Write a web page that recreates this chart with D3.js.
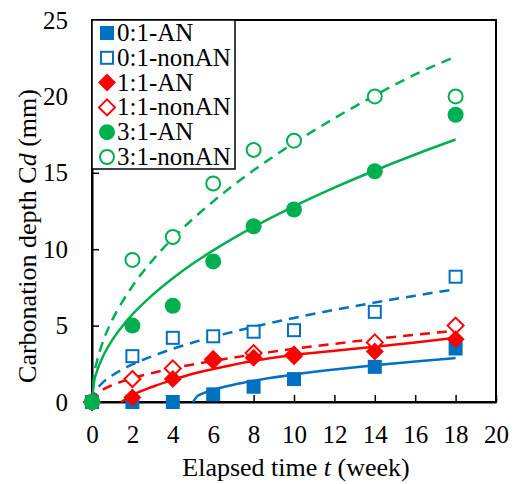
<!DOCTYPE html>
<html>
<head>
<meta charset="utf-8">
<script src="https://cdn.jsdelivr.net/npm/d3@7"></script>
<style>
  body { margin: 0; background: #fff; }
  svg text { font-family: "Liberation Serif", "Times New Roman", serif; fill: #000; }
</style>
</head>
<body>
<div id="chart"></div>
<script>
// measured points (weeks, mm)
const weeks = [0, 2, 4, 6, 8, 10, 14, 18];
const cd01AN    = [0, 0, 0, 0.5, 1.0, 1.5, 2.3, 3.5];
const cd01nonAN = [0, 3.0, 4.2, 4.3, 4.6, 4.7, 5.9, 8.2];
const cd11AN    = [0, 0.3, 1.5, 2.7, 2.9, 3.0, 3.3, 4.1];
const cd11nonAN = [0, 1.5, 2.2, 2.8, 3.2, 3.1, 3.9, 5.0];
const cd31AN    = [0, 5.0, 6.3, 9.2, 11.5, 12.6, 15.1, 18.8];
const cd31nonAN = [0, 9.3, 10.8, 14.3, 16.5, 17.1, 20.0, 20.0];

// fitted curves
const fitT = [0, 0.1, 0.25, 0.5, 1, 1.5, 2, 3, 4, 5, 6, 8, 10, 12, 14, 16, 18];
const fit01nonAN = [0, 0.55, 0.87, 1.23, 1.74, 2.13, 2.46, 3.01, 3.48, 3.89, 4.26, 4.92, 5.5, 6.03, 6.51, 6.96, 7.38];
const fit11nonAN = [0, 0.35, 0.55, 0.78, 1.1, 1.35, 1.56, 1.9, 2.2, 2.46, 2.69, 3.11, 3.48, 3.81, 4.12, 4.4, 4.67];
const fit31AN    = [0, 1.28, 2.03, 2.86, 4.05, 4.96, 5.73, 7.01, 8.1, 9.06, 9.92, 11.46, 12.81, 14.03, 15.15, 16.2, 17.18];
const fit31nonAN = [0, 1.7, 2.68, 3.79, 5.36, 6.56, 7.58, 9.28, 10.72, 11.99, 13.13, 15.16, 16.95, 18.57, 20.06, 21.44, 22.6];
const fit01T  = [5, 5.2, 5.5, 6, 7, 8, 10, 12, 14, 16, 18];
const fit01AN = [0, 0.36, 0.57, 0.8, 1.13, 1.39, 1.79, 2.12, 2.4, 2.65, 2.88];
const fit11T  = [1.45, 1.7, 2, 3, 4, 5, 6, 8, 10, 12, 14, 16, 18];
const fit11AN = [0, 0.22, 0.45, 1.0, 1.45, 1.85, 2.15, 2.7, 3.08, 3.36, 3.62, 3.9, 4.2];

const xTicks = d3.range(0, 21, 2);
const yTicks = [0, 5, 10, 15, 20, 25];

const BLUE = "#0070C0", RED = "#FF0000", GREEN = "#00B050";
const FONT = '"Liberation Serif", "Times New Roman", serif';
const TICK_FS = "25px", TITLE_FS = "26px", LEG_FS = "25px";

const series = [
  {name: "0:1-AN",    vals: cd01AN,    color: BLUE,  shape: "square",  filled: true},
  {name: "0:1-nonAN", vals: cd01nonAN, color: BLUE,  shape: "square",  filled: false},
  {name: "1:1-AN",    vals: cd11AN,    color: RED,   shape: "diamond", filled: true},
  {name: "1:1-nonAN", vals: cd11nonAN, color: RED,   shape: "diamond", filled: false},
  {name: "3:1-AN",    vals: cd31AN,    color: GREEN, shape: "circle",  filled: true},
  {name: "3:1-nonAN", vals: cd31nonAN, color: GREEN, shape: "circle",  filled: false}
];
const fits = [
  {t: fit01T, v: fit01AN,    color: BLUE,  dashed: false},
  {t: fitT,   v: fit01nonAN, color: BLUE,  dashed: true},
  {t: fit11T, v: fit11AN,    color: RED,   dashed: false},
  {t: fitT,   v: fit11nonAN, color: RED,   dashed: true},
  {t: fitT,   v: fit31AN,    color: GREEN, dashed: false},
  {t: fitT,   v: fit31nonAN, color: GREEN, dashed: true}
];

const W = 518, H = 484;
const svg = d3.select("#chart").append("svg").attr("width", W).attr("height", H)
  .attr("font-family", FONT);

const x = d3.scaleLinear().domain([0, 20]).range([92, 496]);
const y = d3.scaleLinear().domain([0, 25]).range([402, 20]);

// frame
svg.append("rect")
  .attr("x", x(0)).attr("y", y(25))
  .attr("width", x(20) - x(0)).attr("height", y(0) - y(25))
  .attr("fill", "none").attr("stroke", "#000").attr("stroke-width", 2);

// axes with inward ticks
const xAxis = svg.append("g").attr("transform", `translate(0,${y(0)})`)
  .call(d3.axisBottom(x).tickValues(xTicks).tickSizeInner(-7).tickSizeOuter(0).tickPadding(23));
const yAxis = svg.append("g").attr("transform", `translate(${x(0)},0)`)
  .call(d3.axisLeft(y).tickValues(yTicks).tickSizeInner(-7).tickSizeOuter(0).tickPadding(24));
[xAxis, yAxis].forEach(a => {
  a.attr("font-family", FONT).attr("font-size", TICK_FS);
  a.select(".domain").attr("stroke", "#000").attr("stroke-width", 2);
  a.selectAll(".tick line").attr("stroke", "#000").attr("stroke-width", 1.5);
  a.selectAll(".tick text").style("font-size", TICK_FS).style("font-family", FONT).attr("fill", "#000");
});

// fit lines
const line = d3.line().x(d => x(d[0])).y(d => y(d[1])).curve(d3.curveMonotoneX);
fits.forEach(f => {
  svg.append("path")
    .datum(f.t.map((t, i) => [t, f.v[i]]))
    .attr("d", line)
    .attr("fill", "none")
    .attr("stroke", f.color)
    .attr("stroke-width", 2.5)
    .attr("stroke-dasharray", f.dashed ? "10,7" : null);
});

function drawMarker(g, shape, color, filled, cx, cy) {
  const fill = filled ? color : "#fff";
  const sw = filled ? 0 : 2;
  if (shape === "square") {
    const s = filled ? 14 : 12;
    g.append("rect").attr("x", cx - s/2).attr("y", cy - s/2).attr("width", s).attr("height", s)
      .attr("fill", fill).attr("stroke", color).attr("stroke-width", sw);
  } else if (shape === "diamond") {
    const r = filled ? 9 : 8;
    g.append("path").attr("d", `M${cx},${cy - r}L${cx + r},${cy}L${cx},${cy + r}L${cx - r},${cy}Z`)
      .attr("fill", fill).attr("stroke", color).attr("stroke-width", sw);
  } else {
    g.append("circle").attr("cx", cx).attr("cy", cy).attr("r", filled ? 8 : 7)
      .attr("fill", fill).attr("stroke", color).attr("stroke-width", sw);
  }
}

// markers: open ones below filled ones in each pair
const drawOrder = [1, 0, 3, 2, 5, 4];
const marks = svg.append("g");
drawOrder.forEach(k => {
  const s = series[k];
  s.vals.forEach((v, i) => drawMarker(marks, s.shape, s.color, s.filled, x(weeks[i]), y(v)));
});

// legend
const lg = svg.append("g");
lg.append("rect").attr("x", 92).attr("y", 20).attr("width", 143).attr("height", 149)
  .attr("fill", "#fff").attr("stroke", "#000").attr("stroke-width", 1.5);
series.forEach((s, i) => {
  const cy = 33 + i * 24.8;
  drawMarker(lg, s.shape, s.color, s.filled, 107, cy);
  lg.append("text").attr("x", 117).attr("y", cy + 8).style("font-size", LEG_FS).text(s.name);
});

// axis titles
const xt = svg.append("text").attr("x", 296).attr("y", 476).attr("text-anchor", "middle").style("font-size", TITLE_FS);
xt.append("tspan").text("Elapsed time ");
xt.append("tspan").style("font-style", "italic").text("t");
xt.append("tspan").text(" (week)");

const yt = svg.append("text").attr("transform", "translate(36,236) rotate(-90)")
  .attr("text-anchor", "middle").style("font-size", TITLE_FS);
yt.append("tspan").text("Carbonation depth C");
yt.append("tspan").style("font-style", "italic").text("d");
yt.append("tspan").text(" (mm)");
</script>
</body>
</html>
